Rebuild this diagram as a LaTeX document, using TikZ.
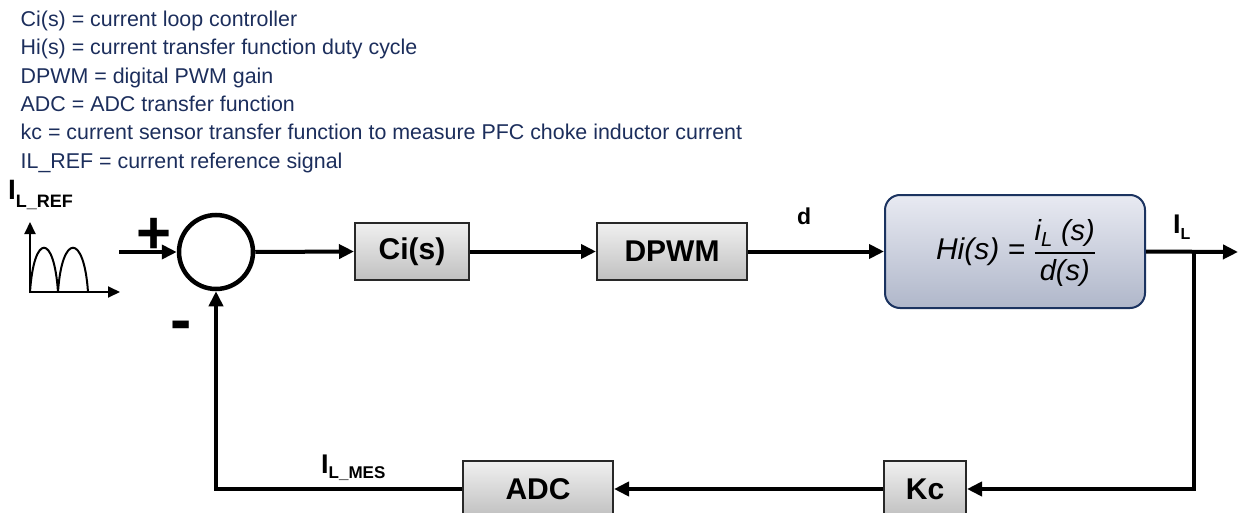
\documentclass[tikz,border=0pt]{standalone}
\usepackage{fontspec}
\usepackage{amsmath}
\setmainfont{Liberation Sans}
\usetikzlibrary{arrows.meta}
\definecolor{navy}{RGB}{28,46,92}
\definecolor{hiborder}{RGB}{27,51,96}
\definecolor{hitop}{RGB}{232,234,242}
\definecolor{hibot}{RGB}{176,183,202}
\definecolor{graytop}{RGB}{240,240,240}
\definecolor{graybot}{RGB}{192,192,192}
\definecolor{grayborder}{RGB}{40,40,40}
\tikzset{
  blk/.style={draw=grayborder, line width=2pt, top color=graytop, bottom color=graybot,
    minimum height=57pt, inner sep=0pt, font=\bfseries\fontsize{30}{30}\selectfont},
  hibox/.style={draw=hiborder, line width=2pt, rounded corners=15pt, top color=hitop, bottom color=hibot,
    minimum width=260pt, minimum height=113pt, inner sep=0pt},
  conn/.style={line width=4pt, -{Triangle[length=15pt,width=14pt]}},
  legend/.style={anchor=base west, inner sep=0pt, text=navy, font=\fontsize{21.4}{25}\selectfont},
  axis/.style={line width=2pt, -{Triangle[length=12pt,width=11pt]}},
  lbl/.style={inner sep=0pt, anchor=base west, font=\bfseries}
}
\begin{document}
\begin{tikzpicture}[x=1pt,y=-1pt]
\useasboundingbox (0,0) rectangle (1246,513);
% legend
\node[legend] (t1) at (20.5,26.7) {Ci(s) = current loop controller};
\node[legend] (t2) at (20.5,55) {Hi(s) = current transfer function duty cycle};
\node[legend] (t3) at (20.5,83.3) {DPWM = digital PWM gain};
\node[legend] (t4) at (20.5,111.7) {ADC = ADC transfer function};
\node[legend] (t5) at (20.5,140) {kc = current sensor transfer function to measure PFC choke inductor current};
\node[legend] (t6) at (20.5,168.3) {IL\_REF = current reference signal};
% reference label and icon
\node[lbl] (iref) at (8,200) {\fontsize{28}{28}\selectfont I\raisebox{-7pt}{\fontsize{18}{18}\selectfont L\_REF}};
\draw[axis] (30,293) -- (30,222);
\draw[axis] (29,292) -- (120,292);
\draw[line width=2pt] (30,292) .. controls (34,233) and (54,233) .. (58,292)
                               .. controls (62,233) and (84,233) .. (88,292);
% blocks
\node[circle, draw, line width=4.5pt, minimum size=74pt, inner sep=0pt] (sum) at (216,252) {};
\node[font=\bfseries\fontsize{60}{60}\selectfont, inner sep=0pt] (plus) at (154.5,236) {+};
\node[font=\bfseries\fontsize{64}{64}\selectfont, inner sep=0pt] (minus) at (181,331) {-};
\node[blk, minimum width=114pt] (ci) at (412,251.5) {Ci(s)};
\node[blk, minimum width=150pt] (dpwm) at (672,251.5) {DPWM};
\node[hibox] (hi) at (1015,251.5) {};
\node[inner sep=0pt, font=\itshape\fontsize{30}{30}\selectfont] (hitext) at (1016,253)
  {Hi(s) = $\genfrac{}{}{1.8pt}{0}{\hbox{\itshape\fontsize{29}{29}\selectfont i\textsubscript{L} (s)}}{\hbox{\itshape\fontsize{29}{29}\selectfont d(s)}}$};
\node[blk, minimum width=150pt, minimum height=56pt] (adc) at (538,489) {ADC};
\node[blk, minimum width=82pt, minimum height=56pt] (kc) at (925,489) {Kc};
% labels
\node[lbl, font=\bfseries\fontsize{23}{23}\selectfont] (dl) at (797,224) {d};
\node[lbl] (il) at (1173,233) {\fontsize{27}{27}\selectfont I\raisebox{-6pt}{\fontsize{16}{16}\selectfont L}};
\node[lbl] (imes) at (321,473) {\fontsize{27}{27}\selectfont I\raisebox{-5pt}{\fontsize{17}{17}\selectfont L\_MES}};
% connectors
\coordinate (in) at (119,252);
\coordinate (out) at (1238,252);
\coordinate (br) at (1194,252);
\draw[conn] (in) -- (sum.west);
\draw[conn] (sum.east) -- (ci.west);
\draw[conn] (ci.east) -- (dpwm.west);
\draw[conn] (dpwm.east) -- (hi.west);
\draw[conn] (hi.east) -- (out);
\draw[conn] (br) |- (kc.east);
\draw[conn] (kc.west) -- (adc.east);
\draw[conn] (adc.west) -| (sum.south);
\end{tikzpicture}
\end{document}
